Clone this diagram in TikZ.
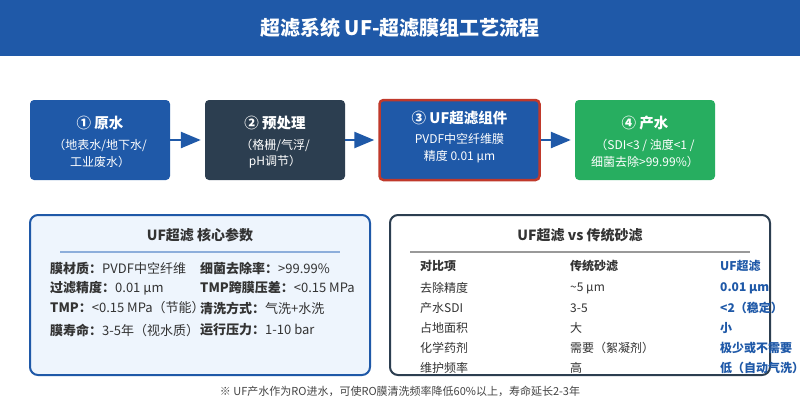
\documentclass[tikz,border=0pt]{standalone}
\usepackage{fontspec}
\setmainfont{Noto Sans CJK SC}
\usetikzlibrary{arrows.meta}
\definecolor{mblue}{HTML}{1F59A8}
\definecolor{mnavy}{HTML}{2C3E50}
\definecolor{mgreen}{HTML}{27AE60}
\definecolor{mred}{HTML}{C0392B}
\definecolor{mlight}{HTML}{EEF5FD}
\definecolor{mrule}{HTML}{8DAEDB}
\definecolor{mtext}{HTML}{333333}
\definecolor{mgray}{HTML}{444444}
\tikzset{
  stepbox/.style={draw=none, rounded corners=4pt, minimum width=140pt, minimum height=80pt, inner sep=0pt},
  btitle/.style={text=white, font=\fontsize{14.5}{16}\selectfont\bfseries, anchor=center, inner sep=0pt},
  bsub/.style={text=white, font=\fontsize{12}{14}\selectfont, anchor=center, inner sep=0pt},
  flow/.style={draw=mblue, line width=2.5pt, -{Triangle[length=20pt,width=16pt]}},
  ptitle/.style={text=mtext, font=\fontsize{14}{16}\selectfont\bfseries, anchor=center, inner sep=0pt},
  prow/.style={text=mtext, font=\fontsize{13}{15}\selectfont, anchor=west, inner sep=0pt},
  trow/.style={text=mtext, font=\fontsize{12}{14}\selectfont, anchor=west, inner sep=0pt},
  tblue/.style={text=mblue, font=\fontsize{12}{14}\selectfont\bfseries, anchor=west, inner sep=0pt},
}
\begin{document}
\begin{tikzpicture}[x=1pt,y=-1pt]
\useasboundingbox (0,0) rectangle (800,400);
\fill[white] (0,0) rectangle (800,400);
% title bar
\fill[mblue] (0,0) rectangle (800,56);
\node[text=white, font=\fontsize{20}{23}\selectfont\bfseries, inner sep=0pt] (title) at (400,28) {超滤系统 UF-超滤膜组工艺流程};

% step boxes
\node[stepbox, fill=mblue] (b1) at (100,140) {};
\node[stepbox, fill=mnavy] (b2) at (275,140) {};
\node[stepbox, fill=mblue, draw=mred, line width=2.5pt, minimum width=160pt, minimum height=80pt] (b3) at (459.5,140) {};
\node[stepbox, fill=mgreen] (b4) at (645,140) {};

\node[btitle] (t1) at (100,123) {① 原水};
\node[bsub] (s1a) at (100,145) {（地表水/地下水/};
\node[bsub] (s1b) at (100,162) {工业废水）};

\node[btitle] (t2) at (275,123) {② 预处理};
\node[bsub] (s2a) at (275,145) {（格栅/气浮/};
\node[bsub] (s2b) at (275,162) {pH调节）};

\node[btitle] (t3) at (459.5,118) {③ UF超滤组件};
\node[bsub] (s3a) at (459.5,139) {PVDF中空纤维膜};
\node[bsub] (s3b) at (459.5,157) {精度 0.01 μm};

\node[btitle] (t4) at (645,123) {④ 产水};
\node[bsub] (s4a) at (645,145) {（SDI<3 / 浊度<1 /};
\node[bsub] (s4b) at (645,162) {细菌去除>99.99\%）};

\draw[flow] (b1.east) -- ([xshift=-4pt]b2.west);
\draw[flow] (b2.east) -- ([xshift=-4pt]b3.west);
\draw[flow] (b3.east) -- ([xshift=-4pt]b4.west);

% left panel
\node[draw=mblue, fill=mlight, line width=2pt, rounded corners=8pt, minimum width=340pt, minimum height=160pt, inner sep=0pt] (lp) at (200,295) {};
\node[ptitle] (lpt) at (200,235) {UF超滤 核心参数};
\draw[mrule, line width=2pt] (60,252) -- (340,252);
\node[prow] (l1) at (50,268) {\textbf{膜材质：}PVDF中空纤维};
\node[prow] (l2) at (50,288) {\textbf{过滤精度：}0.01 μm};
\node[prow] (l3) at (50,308) {\textbf{TMP：}<0.15 MPa（节能）};
\node[prow] (l4) at (50,330) {\textbf{膜寿命：}3-5年（视水质）};
\node[prow] (r1) at (200,268) {\textbf{细菌去除率：}>99.99\%};
\node[prow] (r2) at (200,288) {\textbf{TMP跨膜压差：}<0.15 MPa};
\node[prow] (r3) at (200,308) {\textbf{清洗方式：}气洗+水洗};
\node[prow] (r4) at (200,330) {\textbf{运行压力：}1-10 bar};

% right panel
\node[draw=mnavy, fill=white, line width=2pt, rounded corners=8pt, minimum width=380pt, minimum height=160pt, inner sep=0pt] (rp) at (580,295) {};
\node[ptitle] (rpt) at (580,235) {UF超滤 vs 传统砂滤};
\draw[gray!80, line width=2pt] (410,252) -- (750,252);
\node[trow, font=\fontsize{12}{14}\selectfont\bfseries] (h1) at (420,266) {对比项};
\node[trow, font=\fontsize{12}{14}\selectfont\bfseries] (h2) at (570,266) {传统砂滤};
\node[tblue] (h3) at (720,266) {UF超滤};
\node[trow] (a1) at (420,288) {去除精度};
\node[trow] (a2) at (570,288) {\textasciitilde 5 μm};
\node[tblue] (a3) at (720,288) {0.01 μm};
\node[trow] (b1r) at (420,308) {产水SDI};
\node[trow] (b2r) at (570,308) {3-5};
\node[tblue] (b3r) at (720,308) {<2（稳定）};
\node[trow] (c1) at (420,328) {占地面积};
\node[trow] (c2) at (570,328) {大};
\node[tblue] (c3) at (720,328) {小};
\node[trow] (d1) at (420,348) {化学药剂};
\node[trow] (d2) at (570,348) {需要（絮凝剂）};
\node[tblue] (d3) at (720,348) {极少或不需要};
\node[trow] (e1) at (420,368) {维护频率};
\node[trow] (e2) at (570,368) {高};
\node[tblue] (e3) at (720,368) {低（自动气洗）};

% footer
\node[text=mgray, font=\fontsize{11}{13}\selectfont, inner sep=0pt] (foot) at (400,391) {※ UF产水作为RO进水，可使RO膜清洗频率降低60\%以上，寿命延长2-3年};
\end{tikzpicture}
\end{document}
